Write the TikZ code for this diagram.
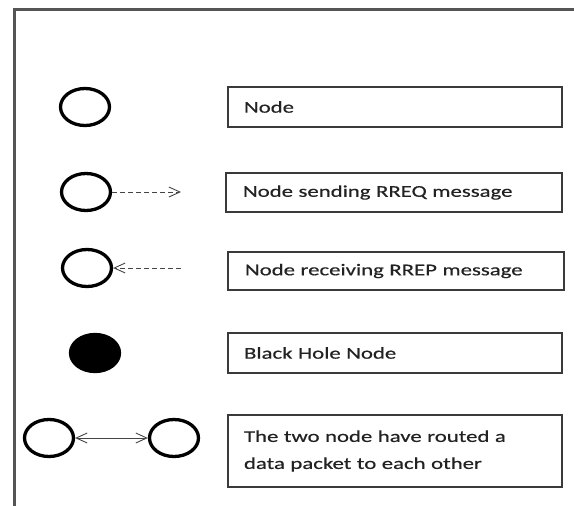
\documentclass[tikz,border=0pt]{standalone}
\usepackage{fontspec}
\setmainfont[FakeStretch=1.38, FakeBold=0.5]{Carlito}
\usetikzlibrary{shapes.geometric,arrows.meta}
\definecolor{framegray}{HTML}{555555}
\definecolor{boxgray}{HTML}{3A3A3A}
\definecolor{txt}{HTML}{222222}
\definecolor{arrowgray}{HTML}{444444}
\tikzset{
  peer/.style={ellipse, draw=black, line width=3.3pt, inner sep=0pt,
    minimum width=49pt, minimum height=37pt},
  blackhole/.style={peer, fill=black},
  legendbox/.style={rectangle, draw=boxgray, line width=1.3pt,
    minimum width=334pt, minimum height=40pt, inner xsep=16pt,
    text width=302pt, align=left, text=txt,
    font=\fontsize{16.5}{27}\selectfont},
  msg/.style={draw=arrowgray, line width=0.9pt, dash pattern=on 5pt off 3pt},
  barb/.tip={Straight Barb[length=11pt, width=10pt, line width=0.9pt]}
}
\begin{document}
\begin{tikzpicture}[x=1pt, y=-1pt]
  \useasboundingbox (0,0) rectangle (574,506);
  % outer frame (open at right and bottom)
  \draw[framegray, line width=3pt] (14,506) -- (14,9) -- (574,9);

  % symbols
  \node[peer] (n1) at (85,107) {};
  \node[peer] (n2) at (86,192) {};
  \node[peer] (n3) at (87,268) {};
  \node[blackhole] (n4) at (95,353) {};
  \node[peer] (n5a) at (49,438) {};
  \node[peer] (n5b) at (174,438) {};

  \coordinate (s2) at (181,192);
  \coordinate (s3) at (181,268);

  % message arrows
  \draw[msg, -{barb}] (n2.east) -- (s2);
  \draw[msg, -{barb}] (s3) -- (n3.east);
  \draw[arrowgray, line width=0.9pt, {barb}-{barb}] (n5a.east) -- (n5b.west);

  % legend texts
  \node[legendbox] (b1) at (395,107) {Node};
  \node[legendbox, minimum width=336pt, minimum height=39pt] (b2) at (394,192.5) {Node sending RREQ message};
  \node[legendbox, minimum width=336pt, minimum height=38pt] (b3) at (396,271) {Node receiving RREP message};
  \node[legendbox] (b4) at (395,353) {Black Hole Node};
  \node[legendbox, minimum height=72pt] (b5) at (395,451) {The two node have routed a\\data packet to each other};
\end{tikzpicture}
\end{document}
